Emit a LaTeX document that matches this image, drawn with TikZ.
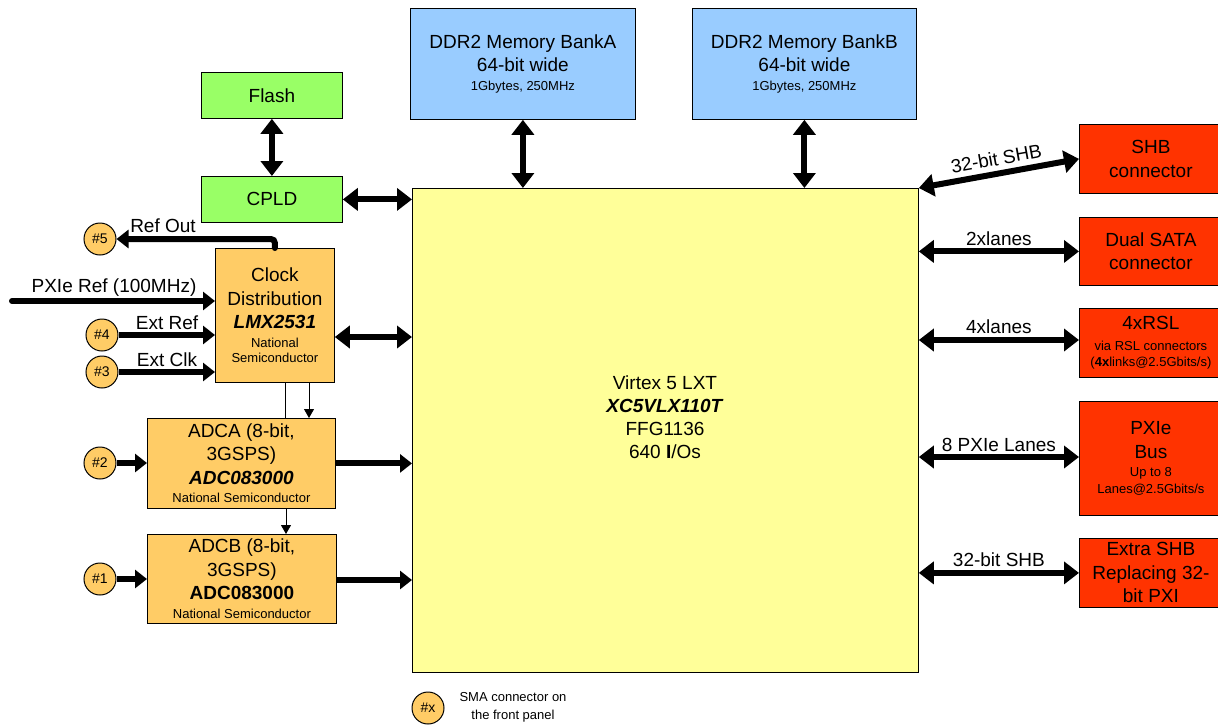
\documentclass[tikz,border=0pt]{standalone}
\usepackage{fontspec}
\setmainfont{Liberation Sans}
\usetikzlibrary{arrows.meta}
\definecolor{memc}{HTML}{99CCFF}
\definecolor{grnc}{HTML}{99FF66}
\definecolor{orgc}{HTML}{FFCC66}
\definecolor{vtxc}{HTML}{FFFF99}
\definecolor{redc}{HTML}{FF3300}
\newcommand{\smtxt}{\fontsize{13}{15}\selectfont}
\begin{document}
\begin{tikzpicture}[x=1pt,y=-1pt,
  bx/.style={draw=black, line width=0.8pt, align=center, inner sep=0pt, anchor=north west,
    font=\fontsize{19}{23.5}\selectfont},
  conn/.style={circle, draw=black, line width=1pt, fill=orgc, minimum size=32pt, inner sep=0pt,
    font=\fontsize{14}{15}\selectfont},
  lbl/.style={font=\fontsize{19}{23}\selectfont, inner sep=1pt},
  dbl/.style={line width=6pt, {Triangle[width=22pt,length=15pt]}-{Triangle[width=22pt,length=15pt]}},
  sgl/.style={line width=6pt, -{Triangle[width=18pt,length=12pt]}},
  thinl/.style={line width=0.8pt},
  thinar/.style={line width=0.8pt, -{Triangle[width=10pt,length=9pt]}}]
\useasboundingbox (0,0) rectangle (1218,726);

% memory
\node[bx, fill=memc, minimum width=225pt, minimum height=111pt] (ddra) at (410,8)
  {DDR2 Memory BankA\\64-bit wide\\[-5pt]{\smtxt 1Gbytes, 250MHz}};
\node[bx, fill=memc, minimum width=224pt, minimum height=111pt] (ddrb) at (692,8)
  {DDR2 Memory BankB\\64-bit wide\\[-5pt]{\smtxt 1Gbytes, 250MHz}};

% flash / cpld
\node[bx, fill=grnc, minimum width=141pt, minimum height=46pt] (flash) at (201,72) {Flash};
\node[bx, fill=grnc, minimum width=141pt, minimum height=46pt] (cpld) at (201,176) {CPLD};

% virtex
\node[bx, fill=vtxc, minimum width=506pt, minimum height=484pt] (vx) at (412,188) {};
\node[align=center, inner sep=0pt, font=\fontsize{19}{23}\selectfont] (vxt) at (665,417)
  {Virtex 5 LXT\\\textbf{\textit{XC5VLX110T}}\\FFG1136\\640 \textbf{I}/Os};

% clock & adcs
\node[bx, fill=orgc, minimum width=119pt, minimum height=134pt] (clk) at (215,248)
  {Clock\\Distribution\\\textbf{\textit{LMX2531}}\\[-5pt]{\smtxt National}\\[-8pt]{\smtxt Semiconductor}};
\node[bx, fill=orgc, minimum width=188pt, minimum height=90pt] (adca) at (147,418)
  {ADCA (8-bit,\\3GSPS)\\\textbf{\textit{ADC083000}}\\[-5pt]{\smtxt National Semiconductor}};
\node[bx, fill=orgc, minimum width=189pt, minimum height=89pt] (adcb) at (147,534)
  {ADCB (8-bit,\\3GSPS)\\\textbf{ADC083000}\\[-5pt]{\smtxt National Semiconductor}};

% right connectors
\node[bx, fill=redc, minimum width=143pt, minimum height=69pt] (shb) at (1079,124)
  {SHB\\connector};
\node[bx, fill=redc, minimum width=143pt, minimum height=68pt] (sata) at (1079,217)
  {Dual SATA\\connector};
\node[bx, fill=redc, minimum width=143pt, minimum height=69pt] (rsl) at (1079,308)
  {4xRSL\\[-2.5pt]{\smtxt via RSL connectors}\\[-7.5pt]{\smtxt (\textbf{4x}links@2.5Gbits/s)}};
\node[bx, fill=redc, minimum width=143pt, minimum height=114pt] (pxie) at (1079,401)
  {PXIe\\Bus\\[-5.5pt]{\smtxt Up to 8}\\[-6.5pt]{\smtxt Lanes@2.5Gbits/s}};
\node[bx, fill=redc, minimum width=143pt, minimum height=69pt] (xshb) at (1079,538)
  {Extra SHB\\Replacing 32-\\bit PXI};

% SMA connectors
\node[conn] (c5) at (100,239) {\#5};
\node[conn] (c4) at (102,335) {\#4};
\node[conn] (c3) at (102,372) {\#3};
\node[conn] (c2) at (100,463) {\#2};
\node[conn] (c1) at (100,579) {\#1};
\node[conn] (cx) at (428,708) {\#x};
\node[align=center, inner sep=0pt, font=\fontsize{13}{18}\selectfont] (legend) at (513,707)
  {SMA connector on\\the front panel};

% memory arrows
\draw[dbl] (ddra.south) -- (ddra.south |- vx.north);
\draw[dbl] (ddrb.south) -- (ddrb.south |- vx.north);
\draw[dbl] (flash.south) -- (cpld.north);
\draw[dbl] (cpld.east) -- (cpld.east -| vx.west);
\draw[dbl] (clk.east |- 0,337) -- (vx.west |- 0,337);

% adc to fpga
\draw[sgl] (adca.east) -- (adca.east -| vx.west);
\draw[sgl] (adcb.east |- 0,580) -- (vx.west |- 0,580);

% inputs
\draw[sgl] (c2.east) -- (c2.east -| adca.west);
\draw[sgl] (c1.east) -- (c1.east -| adcb.west);
\draw[sgl] (c4.east) -- (c4.east -| clk.west);
\draw[sgl] (c3.east) -- (c3.east -| clk.west);
\coordinate (pxsrc) at (12,301);
\draw[sgl, line cap=round] (pxsrc) -- (pxsrc -| clk.west);
\draw[sgl, line cap=round, rounded corners=4pt] (clk.north) |- (c5.east);

\node[lbl] (lro) at (163,226) {Ref Out};
\node[lbl] (lpx) at (114,288) {PXIe Ref (100MHz)};
\node[lbl] (ler) at (167,323) {Ext Ref};
\node[lbl] (lec) at (167,360) {Ext Clk};

% clock to adcs
\draw[thinl] (clk.south -| 285,0) -- (adca.north -| 285,0);
\draw[thinar] (clk.south -| 309,0) -- (adca.north -| 309,0);
\draw[thinar] (adca.south -| 286,0) -- (adcb.north -| 286,0);

% right side
\draw[dbl] (vx.north east) -- (shb.west) node[midway, sloped, above=4pt, lbl] (lshb) {32-bit SHB};
\draw[dbl] (vx.east |- sata.west) -- (sata.west) node[midway, above=2pt, lbl] (lsata) {2xlanes};
\draw[dbl] (vx.east |- 0,340) -- (rsl.west |- 0,340) node[midway, above=2pt, lbl] (lrsl) {4xlanes};
\draw[dbl] (vx.east |- 0,457) -- (pxie.west |- 0,457) node[midway, above=1pt, lbl] (lpxie) {8 PXIe Lanes};
\draw[dbl] (vx.east |- xshb.west) -- (xshb.west) node[midway, above=2pt, lbl] (lxshb) {32-bit SHB};
\end{tikzpicture}
\end{document}
